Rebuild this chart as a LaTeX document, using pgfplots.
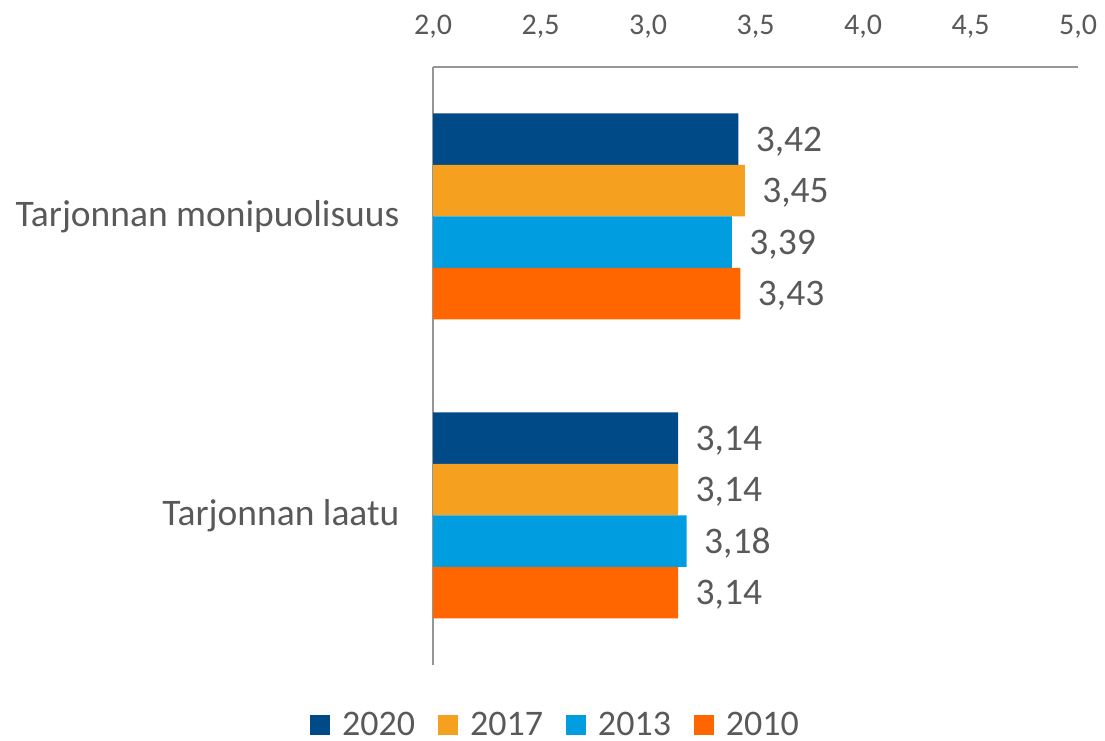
\documentclass[border=0pt]{standalone}
\usepackage{pgfplots}
\pgfplotsset{compat=1.18}
\usepackage{fontspec}
\setmainfont{Carlito}
\definecolor{c2020}{RGB}{0,74,135}
\definecolor{c2017}{RGB}{246,160,32}
\definecolor{c2013}{RGB}{0,158,224}
\definecolor{c2010}{RGB}{255,102,0}
\definecolor{txt}{RGB}{89,89,89}
\definecolor{axl}{RGB}{150,150,150}
\begin{document}
\begin{tikzpicture}[x=1pt,y=1pt]
\begin{axis}[
  at={(433pt,76pt)}, anchor=south west,
  scale only axis, width=645pt, height=598pt,
  xmin=2, xmax=5, ymin=-0.5, ymax=1.5,
  axis x line=top, axis y line=left,
  axis line style={-, axl, line width=1.2pt},
  major tick length=0pt,
  xtick={2,2.5,3,3.5,4,4.5,5},
  ytick={0,1},
  yticklabels={Tarjonnan laatu, Tarjonnan monipuolisuus},
  /pgf/number format/assume math mode=true,
  xticklabel={\pgfmathprintnumber[fixed,fixed zerofill,precision=1,use comma]{\tick}},
  xticklabel style={font=\fontsize{30}{34}\selectfont, text=txt, yshift=25pt},
  yticklabel style={font=\fontsize{37.5}{42}\selectfont, text=txt, xshift=-30pt},
  xbar, bar width=51.5pt,
  nodes near coords,
  nodes near coords style={font=\fontsize{37.5}{42}\selectfont, text=txt, anchor=west, xshift=14pt, yshift=-2pt,
    /pgf/number format/.cd, fixed, fixed zerofill, precision=2, use comma},
  legend columns=4,
  legend style={at={(axis description cs:0.5,0)}, anchor=center, xshift=-200pt, yshift=-60pt,
    draw=none, fill=none, font=\fontsize{36}{40}\selectfont, text=txt,
    /tikz/every odd column/.append style={column sep=10pt},
    /tikz/every even column/.append style={column sep=21pt}},
  legend image code/.code={\fill[#1] (0pt,-10pt) rectangle (20pt,10pt);},
]
\addplot[fill=c2020, draw=none, bar shift=77.25pt] coordinates {(3.42,1) (3.14,0)};
\addplot[fill=c2017, draw=none, bar shift=25.75pt] coordinates {(3.45,1) (3.14,0)};
\addplot[fill=c2013, draw=none, bar shift=-25.75pt] coordinates {(3.39,1) (3.18,0)};
\addplot[fill=c2010, draw=none, bar shift=-77.25pt] coordinates {(3.43,1) (3.14,0)};
\legend{2020,2017,2013,2010}
\end{axis}
\pgfresetboundingbox
\useasboundingbox (0,0) rectangle (1105,741);
\end{tikzpicture}
\end{document}
